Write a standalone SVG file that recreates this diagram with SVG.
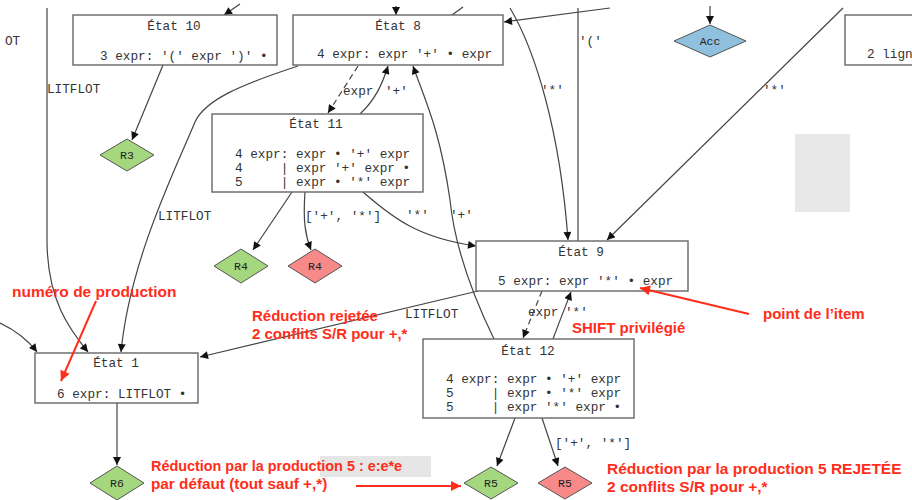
<svg xmlns="http://www.w3.org/2000/svg" width="912" height="500" viewBox="0 0 912 500" xml:space="preserve">
<defs>
<marker id="ah" viewBox="0 0 10 10" refX="10" refY="5" markerWidth="9" markerHeight="8" orient="auto" markerUnits="userSpaceOnUse"><path d="M0,0 L10,5 L0,10 z" fill="#111"/></marker>
<marker id="rh" viewBox="0 0 10 10" refX="10" refY="5" markerWidth="12" markerHeight="10" orient="auto" markerUnits="userSpaceOnUse"><path d="M0,0 L10,5 L0,10 z" fill="#ff2d1a"/></marker>
<style>
.box{fill:#fff;stroke:#666;stroke-width:1.4}
.t{font-family:"Liberation Mono","DejaVu Sans Mono",monospace;font-size:12.7px;fill:#333;white-space:pre}
.m{text-anchor:middle}
.lbl{font-family:"Liberation Mono","DejaVu Sans Mono",monospace;font-size:12.7px;fill:#333;white-space:pre}
.e{fill:none;stroke:#444;stroke-width:1.2;marker-end:url(#ah)}
.n{fill:none;stroke:#444;stroke-width:1.2}
.d{stroke-dasharray:6,4}
.g{fill:#a5d77f;stroke:#555;stroke-width:1}
.r{fill:#f78a89;stroke:#555;stroke-width:1}
.b{fill:#8fc0dd;stroke:#555;stroke-width:1}
.dl{font-family:"Liberation Mono","DejaVu Sans Mono",monospace;font-size:11.5px;fill:#222;text-anchor:middle}
.red{font-family:"Liberation Sans",Arial,sans-serif;font-weight:bold;font-size:15px;fill:#ff2d1a}
.ra{fill:none;stroke:#ff2d1a;stroke-width:2;marker-end:url(#rh)}
</style>
</defs>
<rect width="912" height="500" fill="#fff"/>
<rect x="795" y="134" width="55" height="78" fill="#e8e8e8"/>

<g id="connectors">
<path class="e" d="M47,8 L47,240 C47,300 70,330 88,352"/>
<path class="e" d="M0,323 C15,330 28,340 37,352"/>
<path class="e" d="M298,66 C240,85 205,100 195,122 C175,170 130,260 121,352"/>
<path class="e" d="M163,65 L132,140"/>
<path class="e" d="M240,4 L224,15"/>
<path class="e" d="M396,6 L396,15"/>
<path class="n" d="M452,15 L463,7"/>
<path class="e" d="M610,8 L504,22"/>
<path class="e" d="M510,8 C535,50 560,130 568,240"/>
<path class="n" d="M578,8 L578,241"/>
<path class="e" d="M843,8 L607,240"/>
<path class="e" d="M710,6 L710,24"/>
<path class="e d" d="M358,66 L328,113"/>
<path class="e" d="M360,114 C375,100 382,85 388,66"/>
<path class="e" d="M494,339 C475,300 455,250 450,200 C440,130 425,100 413,66"/>
<path class="e" d="M363,192 C395,220 420,238 476,246"/>
<path class="e" d="M292,192 L253,250"/>
<path class="e" d="M305,192 C303,220 305,235 311,250"/>
<path class="e" d="M478,291 L200,357"/>
<path class="e d" d="M542,291 L523,338"/>
<path class="e" d="M553,339 C560,320 566,305 571,292"/>
<path class="e" d="M515,418 L497,466"/>
<path class="e" d="M542,418 L558,466"/>
<path class="e" d="M117,403 L117,465"/>

<text class="lbl" x="5" y="45">OT</text>
<text class="lbl" x="47" y="93">LITFLOT</text>
<text class="lbl" x="158" y="220">LITFLOT</text>
<text class="lbl" x="343" y="95">expr</text>
<text class="lbl" x="385" y="95">'+'</text>
<text class="lbl" x="541" y="94">'*'</text>
<text class="lbl" x="579" y="45">'('</text>
<text class="lbl" x="763" y="94">'*'</text>
<text class="lbl" x="305" y="220">['+', '*']</text>
<text class="lbl" x="406" y="219">'*'</text>
<text class="lbl" x="450" y="219">'+'</text>
<text class="lbl" x="405" y="318">LITFLOT</text>
<text class="lbl" x="528" y="316">expr</text>
<text class="lbl" x="565" y="316">'*'</text>
<text class="lbl" x="555" y="447">['+', '*']</text>
</g>

<g id="etat10"><rect class="box" x="73" y="15" width="204" height="50"/><text class="t m" x="174" y="30">État 10</text><text class="t" x="100" y="60">3 expr: '(' expr ')' •</text></g>
<g id="etat8"><rect class="box" x="293" y="15" width="210" height="50"/><text class="t m" x="398" y="30">État 8</text><text class="t" x="317" y="58">4 expr: expr '+' • expr</text></g>
<g id="acc"><polygon class="b" points="710,25 746,41 710,57 674,41"/><text class="dl" x="710" y="45">Acc</text></g>
<g id="etatR"><rect class="box" x="845" y="15" width="80" height="50"/><text class="t" x="867" y="58">2 lign</text></g>
<g id="etat11"><rect class="box" x="212" y="114" width="211" height="78"/><text class="t m" x="316" y="128">État 11</text><text class="t" x="235" y="158">4 expr: expr • '+' expr</text><text class="t" x="235" y="172">4     | expr '+' expr •</text><text class="t" x="235" y="186">5     | expr • '*' expr</text></g>
<g id="r3"><polygon class="g" points="127,139 154,155 127,171 100,155"/><text class="dl" x="127" y="159">R3</text></g>
<g id="r4g"><polygon class="g" points="241,249 268,266 241,283 214,266"/><text class="dl" x="241" y="270">R4</text></g>
<g id="r4r"><polygon class="r" points="315,249 342,266 315,283 288,266"/><text class="dl" x="315" y="270">R4</text></g>
<g id="etat9"><rect class="box" x="476" y="241" width="212" height="50"/><text class="t m" x="581" y="256">État 9</text><text class="t" x="498" y="285">5 expr: expr '*' • expr</text></g>
<g id="etat1"><rect class="box" x="35" y="353" width="163" height="50"/><text class="t m" x="116" y="367">État 1</text><text class="t" x="57" y="398">6 expr: LITFLOT •</text></g>
<g id="etat12"><rect class="box" x="423" y="339" width="211" height="79"/><text class="t m" x="528" y="355">État 12</text><text class="t" x="446" y="383">4 expr: expr • '+' expr</text><text class="t" x="446" y="397">5     | expr • '*' expr</text><text class="t" x="446" y="411">5     | expr '*' expr •</text></g>
<g id="r6"><polygon class="g" points="117,466 144,483 117,500 90,483"/><text class="dl" x="117" y="487">R6</text></g>
<g id="r5g"><polygon class="g" points="491,467 518,483 491,499 464,483"/><text class="dl" x="491" y="487">R5</text></g>
<g id="r5r"><polygon class="r" points="565,467 592,483 565,499 538,483"/><text class="dl" x="565" y="487">R5</text></g>

<g id="annotations">
<rect x="320" y="456" width="111" height="21" fill="#e6e6e6"/>
<text class="red" x="12" y="297" style="font-size:15.5px">numéro de production</text>
<path class="ra" d="M96,301 L61,381"/>
<text class="red" x="252" y="321">Réduction rejetée</text>
<text class="red" x="252" y="339">2 conflits S/R pour +,*</text>
<text class="red" x="572" y="333">SHIFT privilégié</text>
<text class="red" x="763" y="319">point de l’item</text>
<path class="ra" d="M749,314 L640,288"/>
<text class="red" x="151" y="471" style="font-size:14.4px">Réduction par la production 5 : e:e*e</text>
<text class="red" x="151" y="489" style="font-size:15.3px">par défaut (tout sauf +,*)</text>
<path class="ra" d="M356,486 L461,486"/>
<text class="red" x="607" y="474" style="font-size:15.5px">Réduction par la production 5 REJETÉE</text>
<text class="red" x="607" y="492" style="font-size:15.5px">2 conflits S/R pour +,*</text>
</g>
</svg>
